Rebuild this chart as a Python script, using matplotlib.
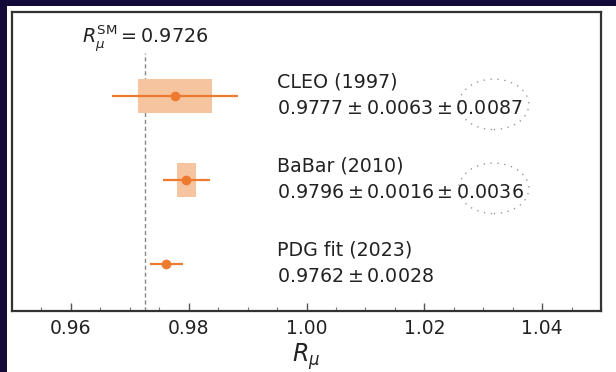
import matplotlib
matplotlib.use("Agg")
import matplotlib.pyplot as plt
from matplotlib.patches import Rectangle, Ellipse
import numpy as np

# ---- data ----
experiments = ["CLEO (1997)", "BaBar (2010)", "PDG fit (2023)"]
values = [0.9777, 0.9796, 0.9762]
stat_err = [0.0063, 0.0016, 0.0028]
syst_err = [0.0087, 0.0036, 0.0]
r_sm = 0.9726
xticks = [0.96, 0.98, 1.00, 1.02, 1.04]
ypos = [3, 2, 1]

orange = "#EE7A30"
box_col = "#F7C4A0"
navy = "#130a3a"

fig = plt.figure(figsize=(6.16, 3.72), dpi=100, facecolor=navy)
# white chart panel
fig.patches.append(Rectangle((7 / 616, 0), 1 - 7 / 616, 1 - 6 / 372,
                             transform=fig.transFigure, facecolor="white",
                             edgecolor="none", zorder=-10))

ax = fig.add_axes([12 / 616, 61 / 372, 589 / 616, 299 / 372])
ax.set_facecolor("white")
ax.set_xlim(0.95, 1.05)
ax.set_ylim(0.44, 4.0)

for name, v, s, sy, y in zip(experiments, values, stat_err, syst_err, ypos):
    tot = np.hypot(s, sy)
    if sy > 0:
        ax.add_patch(Rectangle((v - s, y - 0.2), 2 * s, 0.4,
                               facecolor=box_col, edgecolor="none", zorder=2))
        txt = rf"${v:.4f} \pm {s:.4f} \pm {sy:.4f}$"
    else:
        txt = rf"${v:.4f} \pm {s:.4f}$"
    ax.errorbar([v], [y], xerr=[tot], fmt="o", color=orange, ms=6,
                elinewidth=1.6, capsize=0, zorder=3)
    ax.text(0.995, y + 0.105, name, fontsize=13.7, va="baseline", ha="left",
            color="#222222")
    ax.text(0.995, y - 0.214, txt, fontsize=13.7, va="baseline", ha="left",
            color="#222222")

# dotted ellipses around the systematic uncertainties
for y in ypos[:2]:
    ax.add_patch(Ellipse((1.0318, y - 0.1), 0.0119, 0.6, fill=False,
                         edgecolor="#999999", linestyle=(0, (1, 4)),
                         linewidth=1.0, zorder=1))

# SM line
ax.plot([r_sm, r_sm], [0.44, 3.51], color="#888888", lw=1.0,
        linestyle=(0, (3, 2)), zorder=1)
ax.text(r_sm, 3.63, r"$R_\mu^{\mathrm{SM}} = 0.9726$", fontsize=13.8,
        ha="center", va="baseline", color="#222222")

ax.set_xticks(xticks)
ax.set_xticklabels([f"{t:.2f}" for t in xticks])
ax.set_xticks(np.arange(0.955, 1.05, 0.005), minor=True)
ax.set_yticks([])
ax.tick_params(axis="x", which="major", direction="in", length=6,
               width=1.0, labelsize=13.5, pad=6, color="#555555",
               labelcolor="#222222")
ax.tick_params(axis="x", which="minor", direction="in", length=3,
               width=0.8, color="#777777")
for sp in ax.spines.values():
    sp.set_linewidth(1.6)
    sp.set_color("#333333")
ax.set_xlabel(r"$R_\mu$", fontsize=17, labelpad=2, color="#222222")

fig.savefig("out.png", dpi=100, facecolor=navy)
